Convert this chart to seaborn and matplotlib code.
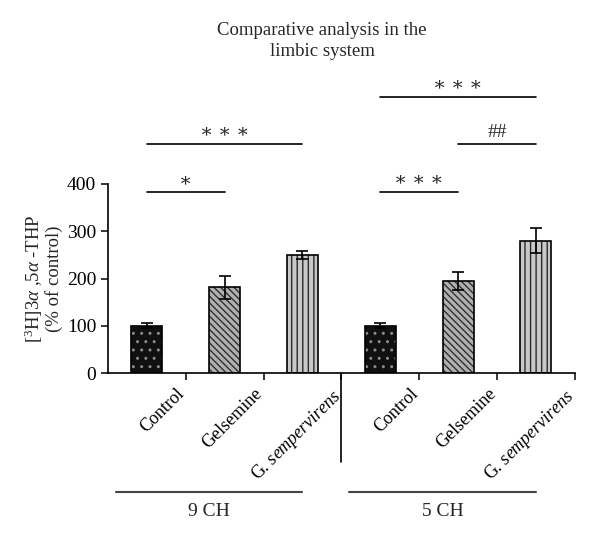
import matplotlib
matplotlib.use("Agg")
import matplotlib.pyplot as plt
import matplotlib.transforms as mtransforms
from matplotlib.patches import Rectangle
import pandas as pd
import seaborn as sns

# data
treatments = ["Control", "Gelsemine", "G. sempervirens"]
groups = ["9 CH", "5 CH"]
means_9ch = [100, 181, 250]
sem_9ch = [5, 24, 9]
means_5ch = [100, 194, 280]
sem_5ch = [5, 19, 26]

# significance brackets: (bar a, bar b, height, label)
brackets = [
    (0, 1, 383, "\u2217"),
    (0, 2, 485, "\u2217 \u2217 \u2217"),
    (3, 4, 383, "\u2217 \u2217 \u2217"),
    (4, 5, 485, "##"),
    (3, 5, 585, "\u2217 \u2217 \u2217"),
]

tick_labels = ["Control", "Gelsemine", r"G. $\mathit{sempervirens}$"]

sns.set_style("ticks")
plt.rcParams["font.family"] = ["Liberation Serif", "DejaVu Serif"]
plt.rcParams["mathtext.fontset"] = "custom"
plt.rcParams["mathtext.rm"] = "Liberation Serif"
plt.rcParams["mathtext.it"] = "Liberation Serif:italic"
plt.rcParams["hatch.linewidth"] = 1.0

df = pd.DataFrame({
    "bar": [f"{g} {t}" for g in groups for t in treatments],
    "treatment": treatments * 2,
    "value": means_9ch + means_5ch,
    "sem": sem_9ch + sem_5ch,
})

face = {"Control": "#101010", "Gelsemine": "#b0b0b0", "G. sempervirens": "#c8c8c8"}
hatch = {"Control": "..", "Gelsemine": "\\\\\\\\\\", "G. sempervirens": "|||"}
hatch_col = {"Control": "#8a8a8a", "Gelsemine": "#303030", "G. sempervirens": "#2a2a2a"}

fig = plt.figure(figsize=(6.0, 5.41), dpi=100)
ax = fig.add_axes([0.18, 0.3105, 0.778, 0.3494])

sns.barplot(data=df, x="bar", y="value", order=list(df["bar"]), width=0.4,
            errorbar=None, color="white", ax=ax)

bars = list(ax.patches)
for p, t in zip(bars, df["treatment"]):
    p.set_facecolor(face[t])
    p.set_hatch(hatch[t])
    p.set_edgecolor(hatch_col[t])
    p.set_linewidth(0)
    ax.add_patch(Rectangle((p.get_x(), p.get_y()), p.get_width(), p.get_height(),
                           fill=False, edgecolor="black", linewidth=1.2, zorder=3))

ax.errorbar(range(len(df)), df["value"], yerr=df["sem"], fmt="none",
            ecolor="black", elinewidth=1.2, capsize=4, capthick=1.2, zorder=4)

ax.set_xlim(-0.5, 5.5)
ax.set_ylim(0, 400)
ax.set_yticks([0, 100, 200, 300, 400])
ax.set_xticks([0.5, 1.5, 2.5, 3.5, 4.5, 5.5])
ax.set_xticklabels(tick_labels * 2, rotation=45, ha="right", rotation_mode="anchor",
                   fontsize=13)
ax.tick_params(axis="both", direction="out", length=5, width=1.1, colors="black")
ax.tick_params(axis="y", labelsize=14)
ax.tick_params(axis="x", pad=4)
# nudge the rotated labels a little to the left
shift = mtransforms.ScaledTranslation(-7 / 72, 0, fig.dpi_scale_trans)
for lbl in ax.get_xticklabels():
    lbl.set_transform(lbl.get_transform() + shift)
ax.set_xlabel("")
ax.set_ylabel("[$^3$H]3$\\alpha$ ,5$\\alpha$ -THP\n(% of control)", fontsize=13.5,
              linespacing=1.0)
ax.yaxis.set_label_coords(-0.097, 0.5)
sns.despine(ax=ax)
for s in ("left", "bottom"):
    ax.spines[s].set_linewidth(1.2)
    ax.spines[s].set_color("black")

# significance bars
for a, b, h, lab in brackets:
    ax.plot([a, b], [h, h], color="black", lw=1.2, clip_on=False)
    ax.text((a + b) / 2, h + 6, lab, ha="center", va="bottom", fontsize=14,
            clip_on=False)

# divider and group labels below the axis
trans = mtransforms.blended_transform_factory(ax.transData, ax.transAxes)
ax.plot([2.5, 2.5], [0, -0.47], color="black", lw=1.2, transform=trans, clip_on=False)
for (x0, x1), g in zip([(-0.4, 2.0), (2.6, 5.0)], groups):
    ax.plot([x0, x1], [-0.628, -0.628], color="#444444", lw=1.5, transform=trans,
            clip_on=False)
    ax.text((x0 + x1) / 2, -0.69, g, ha="center", va="top", fontsize=14,
            transform=trans)

fig.text(0.537, 0.924, "Comparative analysis in the\nlimbic system", ha="center",
         va="center", fontsize=13.5, linespacing=1.3)

fig.savefig("out.png", dpi=100)
plt.close(fig)
